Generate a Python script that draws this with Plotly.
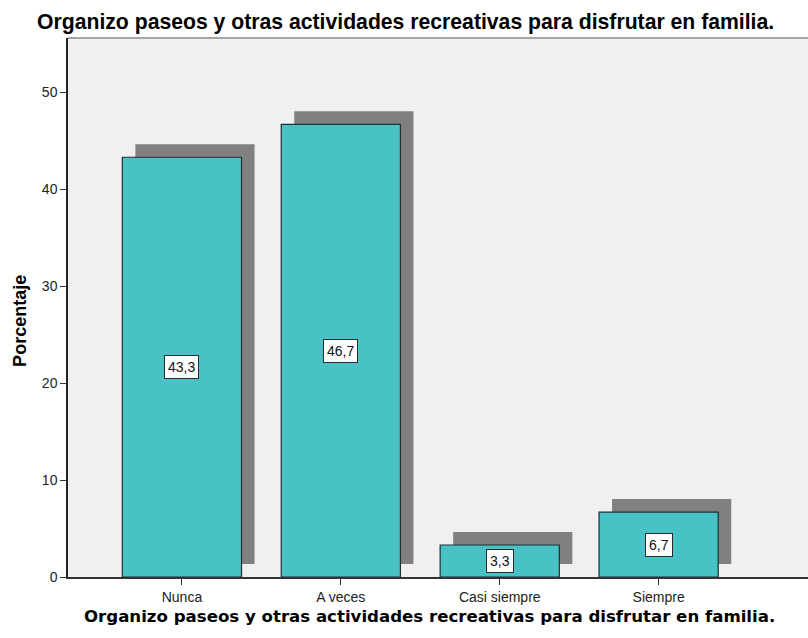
import plotly.graph_objects as go

categories = ["Nunca", "A veces", "Casi siempre", "Siempre"]
percentages = [43.3, 46.7, 3.3, 6.7]
y_ticks = [0, 10, 20, 30, 40, 50]

title_text = "Organizo paseos y otras actividades recreativas para disfrutar en familia."

xs = list(range(len(categories)))
bar_w = 0.75
shadow_dx = 0.082
shadow_dy = 1.34

fig = go.Figure()
# drop shadow behind each bar (SPSS style)
fig.add_trace(go.Bar(
    x=[x + shadow_dx for x in xs], y=percentages, base=shadow_dy,
    width=bar_w, marker=dict(color="#808080", line=dict(width=0)),
    hoverinfo="skip", showlegend=False,
))
fig.add_trace(go.Bar(
    x=xs, y=percentages, width=bar_w,
    marker=dict(color="#48C2C5", line=dict(color="#1f2f30", width=1.2)),
    showlegend=False,
))

for x, v in zip(xs, percentages):
    fig.add_annotation(
        x=x, y=v / 2, xref="x", yref="y", showarrow=False,
        text=f"{v:.1f}".replace(".", ","),
        font=dict(family="Arial", size=14, color="#111"),
        bgcolor="white", bordercolor="#2a2a2a", borderwidth=1, borderpad=3,
    )

# axis titles placed as annotations so the plot box stays where SPSS put it
fig.add_annotation(
    x=-0.065, y=0.475, xref="paper", yref="paper", showarrow=False,
    text="<b>Porcentaje</b>", textangle=-90, xanchor="center", yanchor="middle",
    font=dict(family="Arial", size=18, color="#000"),
)
fig.add_annotation(
    x=0.4885, y=-0.0735, xref="paper", yref="paper", showarrow=False,
    text=f"<b>{title_text}</b>", xanchor="center", yanchor="middle",
    font=dict(family="DejaVu Sans", size=16.6, color="#000"),
)

fig.update_layout(
    width=808, height=638,
    barmode="overlay",
    paper_bgcolor="white", plot_bgcolor="#F0F0F0",
    margin=dict(l=68, r=0, t=38, b=61),
    title=dict(
        text=f"<b>{title_text}</b>", x=37 / 808, xanchor="left",
        y=1 - 22 / 638, yanchor="middle",
        font=dict(family="Arial", size=21.2, color="#000"),
    ),
    font=dict(family="Arial", size=14, color="#222"),
)
fig.update_xaxes(
    range=[-0.717, 3.94], tickvals=xs, ticktext=categories,
    ticks="outside", ticklen=6, tickcolor="#333", tickwidth=1,
    showline=True, linecolor="#333", linewidth=1.5, showgrid=False,
    zeroline=False, tickfont=dict(size=14, color="#222"), automargin=False,
)
fig.update_yaxes(
    range=[0, 55.6], tickvals=y_ticks,
    ticks="outside", ticklen=6, tickcolor="#333", tickwidth=1,
    showline=True, linecolor="#222", linewidth=1.5, showgrid=False,
    zeroline=False, tickfont=dict(size=14, color="#222"), automargin=False,
)
fig.add_shape(type="line", xref="paper", yref="paper", x0=0, x1=1, y0=1, y1=1,
              line=dict(color="#8a8a8a", width=1.5))

# drop the browser's default 8px body margin so the figure fills the window
fig.write_html(
    "out.html",
    config={"displayModeBar": False},
    post_script="document.body.style.margin='0';",
)
